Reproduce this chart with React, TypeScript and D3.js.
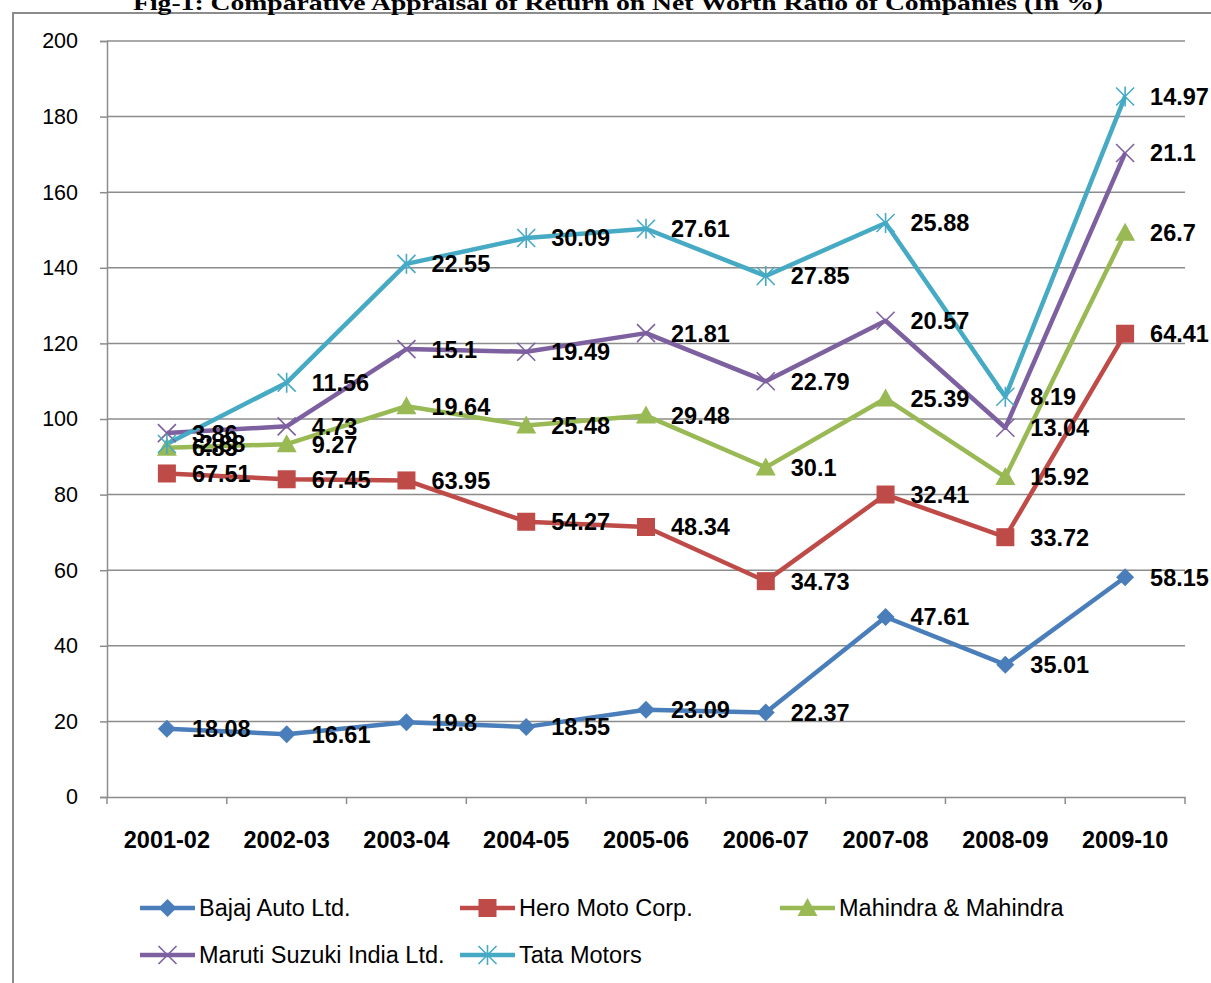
import React, { useEffect, useRef } from "react";
import * as d3 from "d3";

const years = ["2001-02", "2002-03", "2003-04", "2004-05", "2005-06", "2006-07", "2007-08", "2008-09", "2009-10"];
const bajaj = [18.08, 16.61, 19.8, 18.55, 23.09, 22.37, 47.61, 35.01, 58.15];
const hero = [67.51, 67.45, 63.95, 54.27, 48.34, 34.73, 32.41, 33.72, 64.41];
const mahindra = [6.83, 9.27, 19.64, 25.48, 29.48, 30.1, 25.39, 15.92, 26.7];
const maruti = [3.86, 4.73, 15.1, 19.49, 21.81, 22.79, 20.57, 13.04, 21.1];
const tata = [-2.88, 11.56, 22.55, 30.09, 27.61, 27.85, 25.88, 8.19, 14.97];
const seriesNames = ["Bajaj Auto Ltd.", "Hero Moto Corp.", "Mahindra & Mahindra", "Maruti Suzuki India Ltd.", "Tata Motors"];
const yTicks = [0, 20, 40, 60, 80, 100, 120, 140, 160, 180, 200];

const colors = ["#4A7EBB", "#BE4B48", "#98B954", "#7D60A0", "#46AAC5"];
const markers = ["diamond", "square", "triangle", "x", "star"];
const FONT = "'Liberation Sans', Arial, sans-serif";

function drawMarker(g: any, type: string, x: number, y: number, color: string) {
  if (type === "diamond") {
    g.append("path").attr("d", `M${x},${y - 9}L${x + 9},${y}L${x},${y + 9}L${x - 9},${y}Z`).attr("fill", color);
  } else if (type === "square") {
    g.append("rect").attr("x", x - 9).attr("y", y - 9).attr("width", 18).attr("height", 18).attr("fill", color);
  } else if (type === "triangle") {
    g.append("path").attr("d", `M${x},${y - 10}L${x + 10},${y + 8}L${x - 10},${y + 8}Z`).attr("fill", color);
  } else {
    const s = 9;
    let d = `M${x - s},${y - s}L${x + s},${y + s}M${x - s},${y + s}L${x + s},${y - s}`;
    if (type === "star") d += `M${x},${y - s - 1}L${x},${y + s + 1}`;
    g.append("path").attr("d", d).attr("stroke", color).attr("stroke-width", 1.6).attr("fill", "none");
  }
}

export default function App() {
  const ref = useRef<SVGSVGElement>(null);

  useEffect(() => {
    const svg = d3.select(ref.current);
    svg.selectAll("*").remove();
    const width = 1211;
    const height = 983;
    const left = 107, right = 1185, top = 41, bottom = 797;

    svg.append("rect").attr("width", width).attr("height", height).attr("fill", "white");

    // chart border & title
    svg.append("path").attr("d", `M13,${height}L13,13L${width},13`).attr("fill", "none").attr("stroke", "#8c8c8c").attr("stroke-width", 2);
    svg.append("text")
      .attr("x", 618).attr("y", 10).attr("text-anchor", "middle")
      .attr("font-family", "'Liberation Serif', 'Times New Roman', serif").attr("font-weight", "bold").attr("font-size", 22)
      .attr("textLength", 970).attr("lengthAdjust", "spacingAndGlyphs")
      .text("Fig-1: Comparative Appraisal of Return on Net Worth Ratio of Companies (In %)");

    const x = d3.scaleBand().domain(years).range([left, right]);
    const y = d3.scaleLinear().domain([0, 200]).range([bottom, top]);

    // gridlines
    svg.append("g").selectAll("line").data(yTicks.filter((t) => t > 0)).enter().append("line")
      .attr("x1", left).attr("x2", right).attr("y1", (d) => y(d)).attr("y2", (d) => y(d))
      .attr("stroke", "#8c8c8c").attr("stroke-width", 1.5);

    // y axis
    const yAxis = svg.append("g").attr("transform", `translate(${left},0)`)
      .call(d3.axisLeft(y).tickValues(yTicks).tickSize(7).tickPadding(22));
    yAxis.select(".domain").attr("stroke", "#8c8c8c").attr("stroke-width", 1.5);
    yAxis.selectAll(".tick line").attr("stroke", "#8c8c8c").attr("stroke-width", 1.5);
    yAxis.selectAll("text").attr("font-family", FONT).attr("font-size", 21.5).attr("fill", "#000");

    // x axis
    const xAxis = svg.append("g").attr("transform", `translate(0,${bottom})`)
      .call(d3.axisBottom(x).tickSize(0).tickPadding(34));
    xAxis.select(".domain").attr("stroke", "#8c8c8c").attr("stroke-width", 1.5);
    xAxis.selectAll("text").attr("font-family", FONT).attr("font-size", 23.5).attr("font-weight", "bold").attr("fill", "#000");
    const bounds = years.map((d) => x(d) as number).concat([right]);
    svg.append("g").selectAll("line").data(bounds).enter().append("line")
      .attr("x1", (d) => d).attr("x2", (d) => d).attr("y1", bottom).attr("y2", bottom + 7)
      .attr("stroke", "#8c8c8c").attr("stroke-width", 1.5);

    // stacked series
    const rows = years.map((yr, i) => ({ year: yr, s0: bajaj[i], s1: hero[i], s2: mahindra[i], s3: maruti[i], s4: tata[i] }));
    const stacked = d3.stack<any>().keys(["s0", "s1", "s2", "s3", "s4"])(rows);
    const raw = [bajaj, hero, mahindra, maruti, tata];
    const cx = (i: number) => (x(years[i]) as number) + x.bandwidth() / 2;

    const line = d3.line<any>().x((d, i) => cx(i)).y((d) => y(d[1]));
    stacked.forEach((s, k) => {
      svg.append("path").datum(s).attr("d", line).attr("fill", "none")
        .attr("stroke", colors[k]).attr("stroke-width", 4.5).attr("stroke-linejoin", "round");
    });
    stacked.forEach((s, k) => {
      const g = svg.append("g");
      s.forEach((d, i) => drawMarker(g, markers[k], cx(i), y(d[1]), colors[k]));
    });
    stacked.forEach((s, k) => {
      svg.append("g").selectAll("text").data(s).enter().append("text")
        .attr("x", (d, i) => cx(i) + 25).attr("y", (d) => y(d[1])).attr("dy", "0.36em")
        .attr("font-family", FONT).attr("font-size", 23.5).attr("font-weight", "bold").attr("fill", "#000")
        .text((d, i) => String(raw[k][i]));
    });

    // legend
    const legendPos = [[140, 908], [460, 908], [780, 908], [140, 955], [460, 955]];
    seriesNames.forEach((name, k) => {
      const [lx, ly] = legendPos[k];
      const g = svg.append("g");
      g.append("line").attr("x1", lx).attr("x2", lx + 55).attr("y1", ly).attr("y2", ly)
        .attr("stroke", colors[k]).attr("stroke-width", 4.5);
      drawMarker(g, markers[k], lx + 27.5, ly, colors[k]);
      g.append("text").attr("x", lx + 59).attr("y", ly).attr("dy", "0.36em")
        .attr("font-family", FONT).attr("font-size", 23.5).attr("fill", "#000").text(name);
    });
  }, []);

  return <svg ref={ref} width={1211} height={983} style={{ position: "absolute", left: 0, top: 0 }} />;
}
